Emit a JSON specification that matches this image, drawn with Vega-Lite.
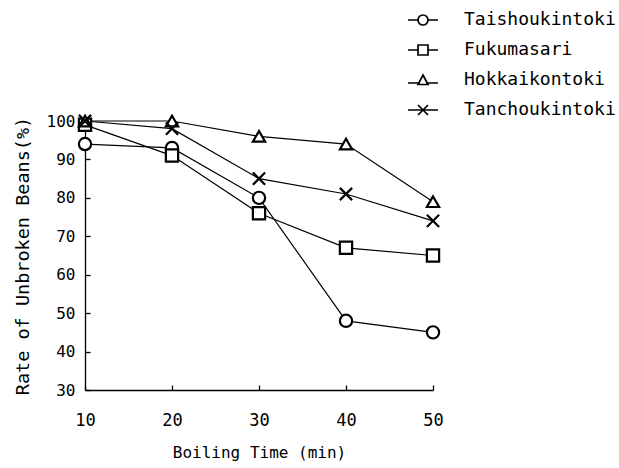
{
  "$schema": "https://vega.github.io/schema/vega-lite/v6.json",
  "autosize": "none",
  "width": 348,
  "height": 269,
  "padding": {"left": 85, "top": 121, "right": 186, "bottom": 78},
  "background": "white",
  "config": {
    "view": {"stroke": null},
    "font": "DejaVu Sans Mono",
    "axis": {
      "grid": false,
      "labelFlush": false,
      "labelOverlap": false,
      "domainColor": "black",
      "domainWidth": 1.3,
      "tickColor": "black",
      "tickWidth": 1.3,
      "tickSize": -5,
      "labelColor": "black",
      "titleColor": "black",
      "labelFont": "DejaVu Sans Mono",
      "titleFont": "DejaVu Sans Mono",
      "titleFontWeight": "normal"
    }
  },
  "data": {
    "values": [
      {"variety": "Taishoukintoki", "time": 10, "rate": 94},
      {"variety": "Taishoukintoki", "time": 20, "rate": 93},
      {"variety": "Taishoukintoki", "time": 30, "rate": 80},
      {"variety": "Taishoukintoki", "time": 40, "rate": 48},
      {"variety": "Taishoukintoki", "time": 50, "rate": 45},
      {"variety": "Fukumasari", "time": 10, "rate": 99},
      {"variety": "Fukumasari", "time": 20, "rate": 91},
      {"variety": "Fukumasari", "time": 30, "rate": 76},
      {"variety": "Fukumasari", "time": 40, "rate": 67},
      {"variety": "Fukumasari", "time": 50, "rate": 65},
      {"variety": "Hokkaikontoki", "time": 10, "rate": 100},
      {"variety": "Hokkaikontoki", "time": 20, "rate": 100},
      {"variety": "Hokkaikontoki", "time": 30, "rate": 96},
      {"variety": "Hokkaikontoki", "time": 40, "rate": 94},
      {"variety": "Hokkaikontoki", "time": 50, "rate": 79},
      {"variety": "Tanchoukintoki", "time": 10, "rate": 100},
      {"variety": "Tanchoukintoki", "time": 20, "rate": 98},
      {"variety": "Tanchoukintoki", "time": 30, "rate": 85},
      {"variety": "Tanchoukintoki", "time": 40, "rate": 81},
      {"variety": "Tanchoukintoki", "time": 50, "rate": 74}
    ]
  },
  "encoding": {
    "x": {
      "field": "time",
      "type": "quantitative",
      "scale": {"domain": [10, 50], "nice": false, "zero": false},
      "axis": {
        "values": [10, 20, 30, 40, 50],
        "title": "Boiling Time (min)",
        "labelFontSize": 17,
        "labelPadding": 27,
        "titleFontSize": 16,
        "titlePadding": 16
      }
    },
    "y": {
      "field": "rate",
      "type": "quantitative",
      "scale": {"domain": [30, 100], "nice": false, "zero": false},
      "axis": {
        "values": [30, 40, 50, 60, 70, 80, 90, 100],
        "title": "Rate of Unbroken Beans(%)",
        "labelFontSize": 16,
        "labelPadding": 15,
        "titleFontSize": 18.5,
        "titlePadding": 14
      }
    }
  },
  "layer": [
    {
      "mark": {"type": "line", "color": "black", "strokeWidth": 1.2},
      "encoding": {"detail": {"field": "variety"}}
    },
    {
      "mark": {"type": "point", "filled": false, "fill": "white", "fillOpacity": 1, "stroke": "black", "strokeWidth": 2.2, "size": 150, "opacity": 1},
      "encoding": {
        "shape": {
          "field": "variety",
          "type": "nominal",
          "scale": {
            "domain": ["Taishoukintoki", "Fukumasari", "Hokkaikontoki", "Tanchoukintoki"],
            "range": ["circle", "square", "triangle-up", "M-1,-1L1,1M-1,1L1,-1"]
          },
          "legend": null
        }
      }
    },
    {
      "mark": {"type": "point", "filled": false, "opacity": 0, "size": 100},
      "encoding": {
        "shape": {
          "field": "variety",
          "type": "nominal",
          "scale": {
            "domain": ["Taishoukintoki", "Fukumasari", "Hokkaikontoki", "Tanchoukintoki"],
            "range": [
              "M-3,0H-1M1,0H3M-1,0A1,1 0 1,0 1,0A1,1 0 1,0 -1,0",
              "M-3,0H-1M1,0H3M-1,-1H1V1H-1Z",
              "M-3,0.6H-0.65M0.65,0.6H3M0,-1L1,0.9H-1Z",
              "M-3,0H3M-1,-1L1,1M-1,1L1,-1"
            ]
          },
          "legend": {
            "title": null,
            "orient": "none",
            "legendX": 329,
            "legendY": -110,
            "padding": 0,
            "symbolSize": 100,
            "symbolOpacity": 1,
            "symbolFillColor": "white",
            "symbolStrokeColor": "black",
            "symbolStrokeWidth": 1.7,
            "labelFont": "DejaVu Sans Mono",
            "labelFontSize": 18,
            "labelColor": "black",
            "labelOffset": 32,
            "rowPadding": 12
          }
        }
      }
    }
  ],
  "resolve": {"scale": {"shape": "independent"}, "legend": {"shape": "independent"}}
}
